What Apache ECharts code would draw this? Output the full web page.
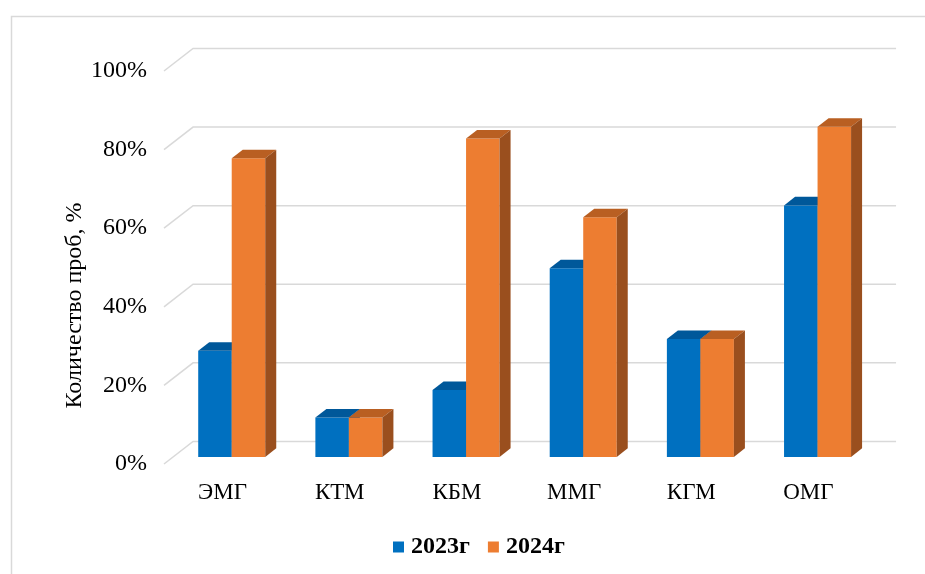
<!DOCTYPE html>
<html>
<head>
<meta charset="utf-8">
<script src="https://cdn.jsdelivr.net/npm/echarts@6/dist/echarts.min.js"></script>
<style>html,body{margin:0;padding:0;background:#fff}#c{width:925px;height:574px}</style>
</head>
<body>
<div id="c"></div>
<script>
const categories = ['ЭМГ', 'КТМ', 'КБМ', 'ММГ', 'КГМ', 'ОМГ'];
const values2023 = [27, 10, 17, 48, 30, 64];
const values2024 = [76, 10, 81, 61, 30, 84];
const yTicks = [0, 20, 40, 60, 80, 100];
const seriesNames = ['2023г', '2024г'];

const FONT = '"Liberation Serif", "Times New Roman", serif';
// 3D style parameters (fractions of category band)
const BAR_W = 0.286;   // bar width / band
const SHIFT_X = 0.078; // bar front plane shift / band
const DEPTH_X = 0.094; // bar depth x / band
const WALL_X = 0.248;  // back wall depth x / band
const SLOPE = 0.776;   // dy/dx of depth direction

const palettes = [
  ['#0070C0', '#00589A', '#004E88'],
  ['#ED7D31', '#B95F22', '#9A4F1E']
];

function barRenderer(slot) {
  const cols = palettes[slot];
  return function (params, api) {
    const i = api.value(0), v = api.value(1);
    const band = api.size([1, 0])[0];
    const w = band * BAR_W;
    const top = api.coord([i, v]);
    const base = api.coord([i, 0]);
    const sx = band * SHIFT_X, sy = -sx * SLOPE;
    const dx = band * DEPTH_X, dy = -dx * SLOPE;
    const cx = top[0] + sx;
    const x0 = slot === 0 ? cx - w : cx;
    const x1 = x0 + w;
    const yT = top[1] + sy, yB = base[1] + sy;
    return {
      type: 'group',
      children: [
        { type: 'polygon', shape: { points: [[x0, yB], [x0, yT], [x1, yT], [x1, yB]] }, style: { fill: cols[0] } },
        { type: 'polygon', shape: { points: [[x0, yT], [x0 + dx, yT + dy], [x1 + dx, yT + dy], [x1, yT]] }, style: { fill: cols[1] } },
        { type: 'polygon', shape: { points: [[x1, yT], [x1 + dx, yT + dy], [x1 + dx, yB + dy], [x1, yB]] }, style: { fill: cols[2] } }
      ]
    };
  };
}

function wallRenderer(params, api) {
  const band = api.size([1, 0])[0];
  const y = api.coord([0, api.value(1)])[1];
  const cs = params.coordSys;
  const x0 = cs.x, x1 = cs.x + cs.width;
  const wx = band * WALL_X, wy = -wx * SLOPE;
  return {
    type: 'polyline',
    shape: { points: [[x0, y], [x0 + wx, y + wy], [x1 + wx, y + wy]] },
    style: { stroke: '#D9D9D9', lineWidth: 1.5, fill: null },
    silent: true
  };
}

const chart = echarts.init(document.getElementById('c'), null, { renderer: 'canvas' });
chart.setOption({
  backgroundColor: '#fff',
  animation: false,
  color: ['#0070C0', '#ED7D31'],
  graphic: [{
    type: 'rect', left: 9, top: 14, shape: { width: 930, height: 580 },
    style: { fill: null, stroke: '#D9D9D9', lineWidth: 1.5 }, silent: true
  }],
  grid: { left: 164, top: 71, width: 703, height: 393 },
  legend: {
    data: seriesNames,
    left: 393, top: 535, padding: 0,
    icon: 'rect', itemWidth: 11, itemHeight: 11, itemGap: 18,
    textStyle: { fontFamily: FONT, fontSize: 24, fontWeight: 'bold', color: '#000', padding: [0, 0, 0, 2] }
  },
  xAxis: {
    type: 'category',
    data: categories,
    axisLine: { show: false }, axisTick: { show: false }, splitLine: { show: false },
    axisLabel: { fontFamily: FONT, fontSize: 23, color: '#000', margin: 17 }
  },
  yAxis: {
    type: 'value', min: 0, max: 100, interval: 20,
    axisLine: { show: false }, axisTick: { show: false }, splitLine: { show: false },
    axisLabel: { formatter: '{value}%', fontFamily: FONT, fontSize: 24, color: '#000', margin: 17 },
    name: 'Количество проб, %',
    nameLocation: 'middle', nameRotate: 90, nameGap: 77, nameMoveOverlap: false,
    nameTextStyle: { fontFamily: FONT, fontSize: 24, color: '#000', padding: [0, 76, 0, 0] }
  },
  series: [
    {
      type: 'custom', name: 'walls', renderItem: wallRenderer,
      data: yTicks.map(v => [0, v]), encode: { x: 0, y: 1 }, z: 1, silent: true, legendHoverLink: false
    },
    {
      type: 'custom', name: seriesNames[0], renderItem: barRenderer(0),
      itemStyle: { color: '#0070C0' },
      data: values2023.map((v, i) => [i, v]), encode: { x: 0, y: 1 }, z: 2
    },
    {
      type: 'custom', name: seriesNames[1], renderItem: barRenderer(1),
      itemStyle: { color: '#ED7D31' },
      data: values2024.map((v, i) => [i, v]), encode: { x: 0, y: 1 }, z: 3
    }
  ]
});
</script>
</body>
</html>
